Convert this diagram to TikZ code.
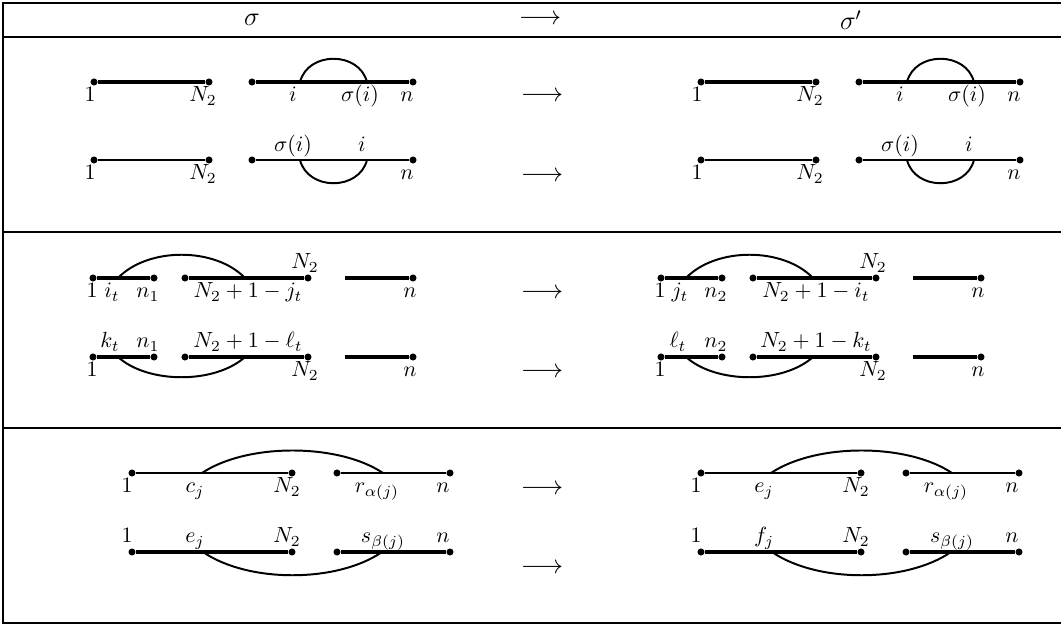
\documentclass[tikz,border=0pt]{standalone}
\tikzset{
  vtx/.style={circle, fill, inner sep=0pt, minimum size=3.2pt},
  thickseg/.style={line width=1.5pt},
  thinseg/.style={line width=0.9pt},
  hump/.style={line width=0.9pt},
  lab/.style={anchor=base, inner sep=0pt},
  arr/.style={font=\large},
  rulel/.style={line width=0.9pt}
}
\begin{document}
\begin{tikzpicture}[x=0.016cm, y=-0.016cm]
\useasboundingbox (0,0) rectangle (1061,626);

% Table frame
\draw[rulel] (1070,3) -- (3,3) -- (3,623) -- (1070,623);
\draw[rulel] (3,37) -- (1070,37);
\draw[rulel] (3,232) -- (1070,232);
\draw[rulel] (3,428) -- (1070,428);

% Header
\node[arr] (hs) at (252,20) {$\sigma$};
\node[arr] (ha) at (540,20) {$\longrightarrow$};
\node[arr] (hsp) at (851,20) {$\sigma'$};

% Arrows
\node[arr] (ar1) at (542,97) {$\longrightarrow$};
\node[arr] (ar2) at (542,177) {$\longrightarrow$};
\node[arr] (ar3) at (542,294) {$\longrightarrow$};
\node[arr] (ar4) at (542,373) {$\longrightarrow$};
\node[arr] (ar5) at (542,490) {$\longrightarrow$};
\node[arr] (ar6) at (542,569) {$\longrightarrow$};

% ---- First block, left (sigma)
\node[vtx] (L1a1) at (94,82) {};
\node[vtx] (L1a2) at (209,82) {};
\node[vtx] (L1a3) at (252,82) {};
\node[vtx] (L1a4) at (413,82) {};
\draw[thickseg] (L1a1) -- (L1a2);
\draw[thickseg] (L1a3) -- (L1a4);
\coordinate (L1ap) at (300,82);
\coordinate (L1aq) at (367,82);
\draw[hump] (L1ap) .. controls +(8,-31) and +(-8,-31) .. (L1aq);
\node[lab] (L1at1) at (90,102) {$1$};
\node[lab] (L1at2) at (203,102) {$N_2$};
\node[lab] (L1at3) at (293,102) {$i$};
\node[lab] (L1at4) at (360,102) {$\sigma(i)$};
\node[lab] (L1at5) at (407,102) {$n$};

\node[vtx] (L1b1) at (94,160) {};
\node[vtx] (L1b2) at (209,160) {};
\node[vtx] (L1b3) at (252,160) {};
\node[vtx] (L1b4) at (413,160) {};
\draw[thinseg] (L1b1) -- (L1b2);
\draw[thinseg] (L1b3) -- (L1b4);
\coordinate (L1bp) at (300,160);
\coordinate (L1bq) at (367,160);
\draw[hump] (L1bp) .. controls +(8,31) and +(-8,31) .. (L1bq);
\node[lab] (L1bt1) at (90,180) {$1$};
\node[lab] (L1bt2) at (203,180) {$N_2$};
\node[lab] (L1bt3) at (293,152) {$\sigma(i)$};
\node[lab] (L1bt4) at (362,152) {$i$};
\node[lab] (L1bt5) at (407,180) {$n$};

% ---- First block, right (sigma')
\node[vtx] (R1a1) at (701,82) {};
\node[vtx] (R1a2) at (816,82) {};
\node[vtx] (R1a3) at (859,82) {};
\node[vtx] (R1a4) at (1020,82) {};
\draw[thickseg] (R1a1) -- (R1a2);
\draw[thickseg] (R1a3) -- (R1a4);
\coordinate (R1ap) at (907,82);
\coordinate (R1aq) at (974,82);
\draw[hump] (R1ap) .. controls +(8,-31) and +(-8,-31) .. (R1aq);
\node[lab] (R1at1) at (697,102) {$1$};
\node[lab] (R1at2) at (810,102) {$N_2$};
\node[lab] (R1at3) at (900,102) {$i$};
\node[lab] (R1at4) at (967,102) {$\sigma(i)$};
\node[lab] (R1at5) at (1014,102) {$n$};

\node[vtx] (R1b1) at (701,160) {};
\node[vtx] (R1b2) at (816,160) {};
\node[vtx] (R1b3) at (859,160) {};
\node[vtx] (R1b4) at (1020,160) {};
\draw[thinseg] (R1b1) -- (R1b2);
\draw[thinseg] (R1b3) -- (R1b4);
\coordinate (R1bp) at (907,160);
\coordinate (R1bq) at (974,160);
\draw[hump] (R1bp) .. controls +(8,31) and +(-8,31) .. (R1bq);
\node[lab] (R1bt1) at (697,180) {$1$};
\node[lab] (R1bt2) at (810,180) {$N_2$};
\node[lab] (R1bt3) at (900,152) {$\sigma(i)$};
\node[lab] (R1bt4) at (969,152) {$i$};
\node[lab] (R1bt5) at (1014,180) {$n$};

% ---- Second block, left
\node[vtx] (L2a1) at (93,278) {};
\node[vtx] (L2a2) at (154,278) {};
\node[vtx] (L2a3) at (185,278) {};
\node[vtx] (L2a4) at (308,278) {};
\coordinate (L2a5) at (345,278);
\node[vtx] (L2a6) at (413,278) {};
\draw[thickseg] (L2a1) -- (L2a2);
\draw[thickseg] (L2a3) -- (L2a4);
\draw[thickseg] (L2a5) -- (L2a6);
\coordinate (L2ap) at (118,278);
\coordinate (L2aq) at (245,278);
\draw[hump] (L2ap) .. controls +(30,-31) and +(-30,-31) .. (L2aq);
\node[lab] (L2at1) at (92,298) {$1$};
\node[lab] (L2at2) at (112,298) {$i_t$};
\node[lab] (L2at3) at (148,298) {$n_1$};
\node[lab] (L2at4) at (248,298) {$N_2+1-j_t$};
\node[lab] (L2at5) at (305,269) {$N_2$};
\node[lab] (L2at6) at (410,298) {$n$};

\node[vtx] (L2b1) at (93,357) {};
\node[vtx] (L2b2) at (154,357) {};
\node[vtx] (L2b3) at (185,357) {};
\node[vtx] (L2b4) at (308,357) {};
\coordinate (L2b5) at (345,357);
\node[vtx] (L2b6) at (413,357) {};
\draw[thickseg] (L2b1) -- (L2b2);
\draw[thickseg] (L2b3) -- (L2b4);
\draw[thickseg] (L2b5) -- (L2b6);
\coordinate (L2bp) at (118,357);
\coordinate (L2bq) at (245,357);
\draw[hump] (L2bp) .. controls +(30,27) and +(-30,27) .. (L2bq);
\node[lab] (L2bt1) at (92,377) {$1$};
\node[lab] (L2bt2) at (110,348) {$k_t$};
\node[lab] (L2bt3) at (148,348) {$n_1$};
\node[lab] (L2bt4) at (248,348) {$N_2+1-\ell_t$};
\node[lab] (L2bt5) at (305,377) {$N_2$};
\node[lab] (L2bt6) at (410,377) {$n$};

% ---- Second block, right
\node[vtx] (R2a1) at (661,278) {};
\node[vtx] (R2a2) at (722,278) {};
\node[vtx] (R2a3) at (753,278) {};
\node[vtx] (R2a4) at (876,278) {};
\coordinate (R2a5) at (913,278);
\node[vtx] (R2a6) at (981,278) {};
\draw[thickseg] (R2a1) -- (R2a2);
\draw[thickseg] (R2a3) -- (R2a4);
\draw[thickseg] (R2a5) -- (R2a6);
\coordinate (R2ap) at (686,278);
\coordinate (R2aq) at (813,278);
\draw[hump] (R2ap) .. controls +(30,-31) and +(-30,-31) .. (R2aq);
\node[lab] (R2at1) at (660,298) {$1$};
\node[lab] (R2at2) at (680,298) {$j_t$};
\node[lab] (R2at3) at (716,298) {$n_2$};
\node[lab] (R2at4) at (816,298) {$N_2+1-i_t$};
\node[lab] (R2at5) at (873,269) {$N_2$};
\node[lab] (R2at6) at (978,298) {$n$};

\node[vtx] (R2b1) at (661,357) {};
\node[vtx] (R2b2) at (722,357) {};
\node[vtx] (R2b3) at (753,357) {};
\node[vtx] (R2b4) at (876,357) {};
\coordinate (R2b5) at (913,357);
\node[vtx] (R2b6) at (981,357) {};
\draw[thickseg] (R2b1) -- (R2b2);
\draw[thickseg] (R2b3) -- (R2b4);
\draw[thickseg] (R2b5) -- (R2b6);
\coordinate (R2bp) at (686,357);
\coordinate (R2bq) at (813,357);
\draw[hump] (R2bp) .. controls +(30,27) and +(-30,27) .. (R2bq);
\node[lab] (R2bt1) at (660,377) {$1$};
\node[lab] (R2bt2) at (678,348) {$\ell_t$};
\node[lab] (R2bt3) at (716,348) {$n_2$};
\node[lab] (R2bt4) at (816,348) {$N_2+1-k_t$};
\node[lab] (R2bt5) at (873,377) {$N_2$};
\node[lab] (R2bt6) at (978,377) {$n$};

% ---- Third block, left
\node[vtx] (L3a1) at (132,473) {};
\node[vtx] (L3a2) at (292,473) {};
\node[vtx] (L3a3) at (337,473) {};
\node[vtx] (L3a4) at (450,473) {};
\draw[thinseg] (L3a1) -- (L3a2);
\draw[thinseg] (L3a3) -- (L3a4);
\coordinate (L3ap) at (202,473);
\coordinate (L3aq) at (383,473);
\draw[hump] (L3ap) .. controls +(45,-30) and +(-45,-30) .. (L3aq);
\node[lab] (L3at1) at (127,493) {$1$};
\node[lab] (L3at2) at (195,493) {$c_j$};
\node[lab] (L3at3) at (287,493) {$N_2$};
\node[lab] (L3at4) at (377,493) {$r_{\alpha(j)}$};
\node[lab] (L3at5) at (443,493) {$n$};

\node[vtx] (L3b1) at (132,552) {};
\node[vtx] (L3b2) at (292,552) {};
\node[vtx] (L3b3) at (337,552) {};
\node[vtx] (L3b4) at (450,552) {};
\draw[thickseg] (L3b1) -- (L3b2);
\draw[thickseg] (L3b3) -- (L3b4);
\coordinate (L3bp) at (203,552);
\coordinate (L3bq) at (382,552);
\draw[hump] (L3bp) .. controls +(45,31) and +(-45,31) .. (L3bq);
\node[lab] (L3bt1) at (127,543) {$1$};
\node[lab] (L3bt2) at (195,543) {$e_j$};
\node[lab] (L3bt3) at (287,543) {$N_2$};
\node[lab] (L3bt4) at (383,543) {$s_{\beta(j)}$};
\node[lab] (L3bt5) at (443,543) {$n$};

% ---- Third block, right
\node[vtx] (R3a1) at (701,473) {};
\node[vtx] (R3a2) at (861,473) {};
\node[vtx] (R3a3) at (906,473) {};
\node[vtx] (R3a4) at (1019,473) {};
\draw[thinseg] (R3a1) -- (R3a2);
\draw[thinseg] (R3a3) -- (R3a4);
\coordinate (R3ap) at (771,473);
\coordinate (R3aq) at (952,473);
\draw[hump] (R3ap) .. controls +(45,-30) and +(-45,-30) .. (R3aq);
\node[lab] (R3at1) at (696,493) {$1$};
\node[lab] (R3at2) at (764,493) {$e_j$};
\node[lab] (R3at3) at (856,493) {$N_2$};
\node[lab] (R3at4) at (946,493) {$r_{\alpha(j)}$};
\node[lab] (R3at5) at (1012,493) {$n$};

\node[vtx] (R3b1) at (701,552) {};
\node[vtx] (R3b2) at (861,552) {};
\node[vtx] (R3b3) at (906,552) {};
\node[vtx] (R3b4) at (1019,552) {};
\draw[thickseg] (R3b1) -- (R3b2);
\draw[thickseg] (R3b3) -- (R3b4);
\coordinate (R3bp) at (772,552);
\coordinate (R3bq) at (951,552);
\draw[hump] (R3bp) .. controls +(45,31) and +(-45,31) .. (R3bq);
\node[lab] (R3bt1) at (696,543) {$1$};
\node[lab] (R3bt2) at (764,543) {$f_j$};
\node[lab] (R3bt3) at (856,543) {$N_2$};
\node[lab] (R3bt4) at (952,543) {$s_{\beta(j)}$};
\node[lab] (R3bt5) at (1012,543) {$n$};
\end{tikzpicture}
\end{document}
